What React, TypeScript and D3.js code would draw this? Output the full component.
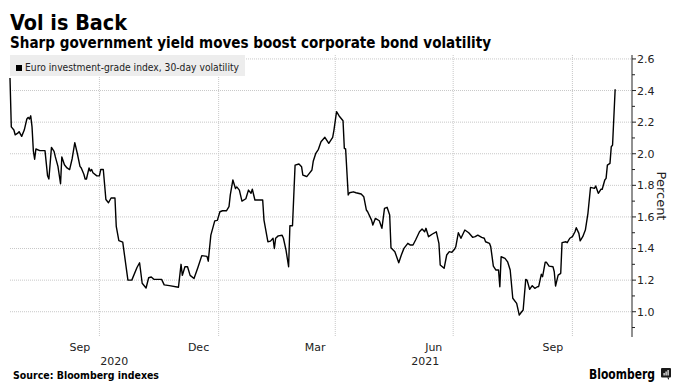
import React, { useEffect, useRef } from 'react'
import * as d3 from 'd3'

// 30-day volatility of the Euro IG index
const dates: string[] = [
    '2020-07-24', '2020-07-25', '2020-07-27', '2020-07-28', '2020-07-30', '2020-07-31', '2020-08-02', '2020-08-04',
    '2020-08-06', '2020-08-07', '2020-08-08', '2020-08-09', '2020-08-10', '2020-08-11', '2020-08-12', '2020-08-13',
    '2020-08-16', '2020-08-20', '2020-08-22', '2020-08-23', '2020-08-25', '2020-08-27', '2020-08-28', '2020-08-30',
    '2020-09-01', '2020-09-02', '2020-09-04', '2020-09-06', '2020-09-08', '2020-09-10', '2020-09-12', '2020-09-14',
    '2020-09-16', '2020-09-17', '2020-09-19', '2020-09-20', '2020-09-21', '2020-09-23', '2020-09-24', '2020-09-25',
    '2020-09-26', '2020-09-29', '2020-10-01', '2020-10-02', '2020-10-04', '2020-10-06', '2020-10-08', '2020-10-10',
    '2020-10-13', '2020-10-14', '2020-10-16', '2020-10-19', '2020-10-23', '2020-10-26', '2020-10-30', '2020-11-01',
    '2020-11-03', '2020-11-06', '2020-11-08', '2020-11-10', '2020-11-12', '2020-11-18', '2020-11-20', '2020-11-24',
    '2020-12-01', '2020-12-03', '2020-12-04', '2020-12-06', '2020-12-08', '2020-12-10', '2020-12-13', '2020-12-16',
    '2020-12-19', '2020-12-23', '2020-12-24', '2020-12-26', '2020-12-29', '2020-12-31', '2021-01-02', '2021-01-04',
    '2021-01-07', '2021-01-09', '2021-01-10', '2021-01-12', '2021-01-14', '2021-01-15', '2021-01-17', '2021-01-19',
    '2021-01-22', '2021-01-24', '2021-01-26', '2021-01-27', '2021-01-29', '2021-02-04', '2021-02-05', '2021-02-08',
    '2021-02-10', '2021-02-12', '2021-02-13', '2021-02-14', '2021-02-16', '2021-02-19', '2021-02-20', '2021-02-22',
    '2021-02-24', '2021-02-25', '2021-02-27', '2021-03-01', '2021-03-04', '2021-03-06', '2021-03-07', '2021-03-09',
    '2021-03-10', '2021-03-12', '2021-03-14', '2021-03-15', '2021-03-17', '2021-03-19', '2021-03-21', '2021-03-24',
    '2021-03-25', '2021-03-27', '2021-03-30', '2021-03-31', '2021-04-02', '2021-04-04', '2021-04-07', '2021-04-08',
    '2021-04-09', '2021-04-11', '2021-04-12', '2021-04-15', '2021-04-17', '2021-04-21', '2021-04-23', '2021-04-25',
    '2021-04-26', '2021-04-29', '2021-04-30', '2021-05-02', '2021-05-05', '2021-05-07', '2021-05-09', '2021-05-11',
    '2021-05-13', '2021-05-14', '2021-05-17', '2021-05-20', '2021-05-22', '2021-05-24', '2021-05-27', '2021-05-29',
    '2021-05-31', '2021-06-02', '2021-06-05', '2021-06-07', '2021-06-09', '2021-06-10', '2021-06-12', '2021-06-15',
    '2021-06-18', '2021-06-20', '2021-06-21', '2021-06-24', '2021-06-26', '2021-06-28', '2021-06-30', '2021-07-02',
    '2021-07-03', '2021-07-05', '2021-07-07', '2021-07-10', '2021-07-13', '2021-07-16', '2021-07-18', '2021-07-20',
    '2021-07-23', '2021-07-25', '2021-07-26', '2021-07-29', '2021-07-30', '2021-08-01', '2021-08-03', '2021-08-05',
    '2021-08-06', '2021-08-07', '2021-08-10', '2021-08-12', '2021-08-14', '2021-08-16', '2021-08-19', '2021-08-21',
    '2021-08-22', '2021-08-24', '2021-08-26', '2021-08-27', '2021-08-29', '2021-08-31', '2021-09-02', '2021-09-04',
    '2021-09-05', '2021-09-07', '2021-09-08', '2021-09-10', '2021-09-11', '2021-09-13', '2021-09-16', '2021-09-17',
    '2021-09-18', '2021-09-20', '2021-09-22', '2021-09-23', '2021-09-26', '2021-09-27', '2021-09-29', '2021-10-01',
    '2021-10-03', '2021-10-04', '2021-10-06', '2021-10-07', '2021-10-09', '2021-10-11', '2021-10-13', '2021-10-15',
    '2021-10-18', '2021-10-19', '2021-10-21', '2021-10-23', '2021-10-24', '2021-10-26', '2021-10-27', '2021-10-28',
    '2021-10-30', '2021-10-31', '2021-11-01', '2021-11-03',
]

const vols: number[] = [
    2.48, 2.17, 2.15, 2.12, 2.13, 2.14, 2.11, 2.15,
    2.22, 2.23, 2.22, 2.24, 2.17, 2.02, 1.965, 2.03,
    2.02, 2.02, 1.86, 1.84, 2.04, 2.015, 1.98, 1.92,
    1.81, 1.98, 1.93, 1.91, 1.90, 1.97, 2.07, 2.00,
    1.92, 1.91, 1.87, 1.84, 1.84, 1.91, 1.89, 1.90,
    1.88, 1.86, 1.86, 1.90, 1.90, 1.71, 1.69, 1.72,
    1.72, 1.54, 1.45, 1.44, 1.20, 1.20, 1.28, 1.31,
    1.18, 1.15, 1.215, 1.22, 1.205, 1.205, 1.17, 1.165,
    1.155, 1.30, 1.23, 1.285, 1.285, 1.23, 1.21, 1.28,
    1.355, 1.35, 1.32, 1.485, 1.575, 1.578, 1.633, 1.639,
    1.639, 1.665, 1.74, 1.834, 1.78, 1.79, 1.77, 1.70,
    1.715, 1.77, 1.75, 1.775, 1.707, 1.707, 1.58, 1.443,
    1.447, 1.465, 1.40, 1.465, 1.48, 1.484, 1.465, 1.39,
    1.285, 1.544, 1.544, 1.928, 1.935, 1.918, 1.865, 1.859,
    1.855, 1.876, 1.897, 1.952, 2.003, 2.028, 2.076, 2.104,
    2.091, 2.066, 2.104, 2.15, 2.266, 2.239, 2.209, 2.034,
    2.03, 1.739, 1.753, 1.759, 1.753, 1.745, 1.728, 1.644,
    1.633, 1.58, 1.549, 1.591, 1.576, 1.528, 1.654, 1.661,
    1.612, 1.405, 1.38, 1.31, 1.359, 1.401, 1.433, 1.422,
    1.422, 1.454, 1.506, 1.523, 1.506, 1.528, 1.475, 1.492,
    1.506, 1.433, 1.296, 1.275, 1.359, 1.38, 1.376, 1.395,
    1.411, 1.50, 1.465, 1.517, 1.50, 1.471, 1.475, 1.485,
    1.471, 1.465, 1.443, 1.433, 1.411, 1.289, 1.264, 1.264,
    1.158, 1.348, 1.338, 1.316, 1.264, 1.085, 1.053, 0.979,
    0.99, 1.011, 1.205, 1.20, 1.142, 1.165, 1.148, 1.158,
    1.16, 1.237, 1.222, 1.313, 1.313, 1.289, 1.285, 1.253,
    1.163, 1.232, 1.243, 1.437, 1.443, 1.437, 1.465, 1.475,
    1.506, 1.532, 1.496, 1.449, 1.475, 1.517, 1.623, 1.787,
    1.781, 1.796, 1.749, 1.775, 1.775, 1.834, 1.844, 1.928,
    1.939, 2.044, 2.055, 2.408,
]

const yTicks = [1.0, 1.2, 1.4, 1.6, 1.8, 2.0, 2.2, 2.4, 2.6]
const yMinorTicks = [0.9, 1.1, 1.3, 1.5, 1.7, 1.9, 2.1, 2.3, 2.5]
const monthLabels = ['Sep', 'Dec', 'Mar', 'Jun', 'Sep']
const monthStarts = ['2020-09-01', '2020-12-01', '2021-03-01', '2021-06-01', '2021-09-01']
const gridDates = ['2020-10-01', '2021-01-01', '2021-04-01', '2021-07-01', '2021-10-01']
const yearLabels = ['2020', '2021']
const xDomain = ['2020-07-24', '2021-11-16']
const yDomain = [0.84, 2.625]

const W = 680
const H = 388
const left = 10
const right = 632
const top = 55
const bottom = 337
const font = '"DejaVu Sans", Verdana, sans-serif'

const VolChart = () => {
    const svgRef = useRef<SVGSVGElement>(null)

    useEffect(() => {
        const parse = d3.timeParse('%Y-%m-%d')
        const data = dates.map((d, i) => ({ date: parse(d) as Date, value: vols[i] }))

        const x = d3.scaleTime()
            .domain(xDomain.map(d => parse(d) as Date))
            .range([left, right])
        const y = d3.scaleLinear().domain(yDomain).range([bottom, top])

        const svg = d3.select(svgRef.current)
        svg.selectAll('*').remove()

        // titles
        svg.append('text')
            .attr('x', 10).attr('y', 30)
            .attr('font-family', font).attr('font-weight', 'bold').attr('font-size', 21)
            .attr('textLength', 117).attr('lengthAdjust', 'spacingAndGlyphs')
            .text('Vol is Back')
        svg.append('text')
            .attr('x', 10).attr('y', 48)
            .attr('font-family', font).attr('font-weight', 'bold').attr('font-size', 15.5)
            .attr('textLength', 481).attr('lengthAdjust', 'spacingAndGlyphs')
            .text('Sharp government yield moves boost corporate bond volatility')

        // horizontal grid
        svg.append('g')
            .selectAll('line')
            .data(yTicks)
            .join('line')
            .attr('x1', left).attr('x2', right)
            .attr('y1', d => y(d)).attr('y2', d => y(d))
            .attr('stroke', '#c8c8c8').attr('stroke-width', 1)
            .attr('stroke-dasharray', '1,1')

        // vertical grid
        svg.append('g')
            .selectAll('line')
            .data(gridDates.map(d => parse(d) as Date))
            .join('line')
            .attr('x1', d => x(d)).attr('x2', d => x(d))
            .attr('y1', top).attr('y2', bottom)
            .attr('stroke', '#c8c8c8').attr('stroke-width', 1)
            .attr('stroke-dasharray', '1,1')

        // legend box
        const legend = svg.append('g')
        legend.append('rect')
            .attr('x', 10).attr('y', 55).attr('width', 235).attr('height', 21)
            .attr('fill', '#ededed')
        legend.append('rect')
            .attr('x', 16).attr('y', 65).attr('width', 6).attr('height', 6)
            .attr('fill', '#000')
        legend.append('text')
            .attr('x', 25).attr('y', 71)
            .attr('font-family', font).attr('font-size', 11).attr('fill', '#222')
            .attr('textLength', 214).attr('lengthAdjust', 'spacingAndGlyphs')
            .text('Euro investment-grade index, 30-day volatility')

        // line
        const line = d3.line<{ date: Date, value: number }>()
            .x(d => x(d.date))
            .y(d => y(d.value))
        svg.append('path')
            .datum(data)
            .attr('d', line)
            .attr('fill', 'none')
            .attr('stroke', '#000')
            .attr('stroke-width', 1.4)
            .attr('stroke-linejoin', 'round')

        // right axis
        const axis = svg.append('g')
        axis.append('line')
            .attr('x1', right).attr('x2', right)
            .attr('y1', top).attr('y2', bottom)
            .attr('stroke', '#222').attr('stroke-width', 1)
        axis.selectAll('.major')
            .data(yTicks)
            .join('line')
            .attr('class', 'major')
            .attr('x1', right).attr('x2', right + 4)
            .attr('y1', d => y(d)).attr('y2', d => y(d))
            .attr('stroke', '#222')
        axis.selectAll('.minor')
            .data(yMinorTicks)
            .join('line')
            .attr('class', 'minor')
            .attr('x1', right).attr('x2', right + 3)
            .attr('y1', d => y(d)).attr('y2', d => y(d))
            .attr('stroke', '#222')
        axis.selectAll('text')
            .data(yTicks)
            .join('text')
            .attr('x', right + 5)
            .attr('y', d => y(d))
            .attr('dy', '0.36em')
            .attr('font-family', font).attr('font-size', 11).attr('fill', '#222')
            .text(d => d3.format('.1f')(d))
        svg.append('text')
            .attr('transform', `translate(657,${(top + bottom) / 2}) rotate(90)`)
            .attr('text-anchor', 'middle')
            .attr('font-family', font).attr('font-size', 13).attr('fill', '#222')
            .text('Percent')

        // month labels centred in their month
        svg.append('g')
            .selectAll('text')
            .data(monthStarts.map((d, i) => ({ start: parse(d) as Date, label: monthLabels[i] })))
            .join('text')
            .attr('x', d => (x(d.start) + x(d3.timeMonth.offset(d.start, 1))) / 2)
            .attr('y', 351)
            .attr('text-anchor', 'middle')
            .attr('font-family', font).attr('font-size', 11).attr('fill', '#222')
            .text(d => d.label)

        // year labels centred in the visible part of each year
        const [x0, x1] = x.domain()
        svg.append('g')
            .selectAll('text')
            .data(yearLabels)
            .join('text')
            .attr('x', d => {
                const a = new Date(+d, 0, 1)
                const b = new Date(+d + 1, 0, 1)
                const s = a < x0 ? x0 : a
                const e = b > x1 ? x1 : b
                return (x(s) + x(e)) / 2
            })
            .attr('y', 364.5)
            .attr('text-anchor', 'middle')
            .attr('font-family', font).attr('font-size', 11).attr('fill', '#222')
            .text(d => d)

        // footer
        svg.append('text')
            .attr('x', 13).attr('y', 379)
            .attr('font-family', font).attr('font-weight', 'bold').attr('font-size', 10.5)
            .attr('textLength', 146).attr('lengthAdjust', 'spacingAndGlyphs')
            .text('Source: Bloomberg indexes')
        svg.append('text')
            .attr('x', 589).attr('y', 378.5)
            .attr('font-family', font).attr('font-weight', 'bold').attr('font-size', 13.5)
            .attr('textLength', 66).attr('lengthAdjust', 'spacingAndGlyphs')
            .text('Bloomberg')

        // logo
        const logo = svg.append('g').attr('transform', 'translate(661,368)')
        logo.append('rect').attr('width', 10).attr('height', 9.5).attr('rx', 1).attr('fill', '#1a1a1a')
        logo.append('path').attr('d', 'M6,9.5 L8,12 L8,9.5 Z').attr('fill', '#1a1a1a')
        logo.selectAll('.bar')
            .data([[2.5, 5], [4.5, 3.5], [6.5, 2]])
            .join('rect')
            .attr('class', 'bar')
            .attr('x', d => d[0]).attr('y', d => d[1])
            .attr('width', 1.2).attr('height', d => 7.5 - d[1])
            .attr('fill', '#fff')
    }, [])

    return (
        <svg ref={svgRef} width={W} height={H}
            style={{ position: 'absolute', left: 0, top: 0, background: '#fff' }} />
    )
}

export default function App() {
    return <VolChart />
}
